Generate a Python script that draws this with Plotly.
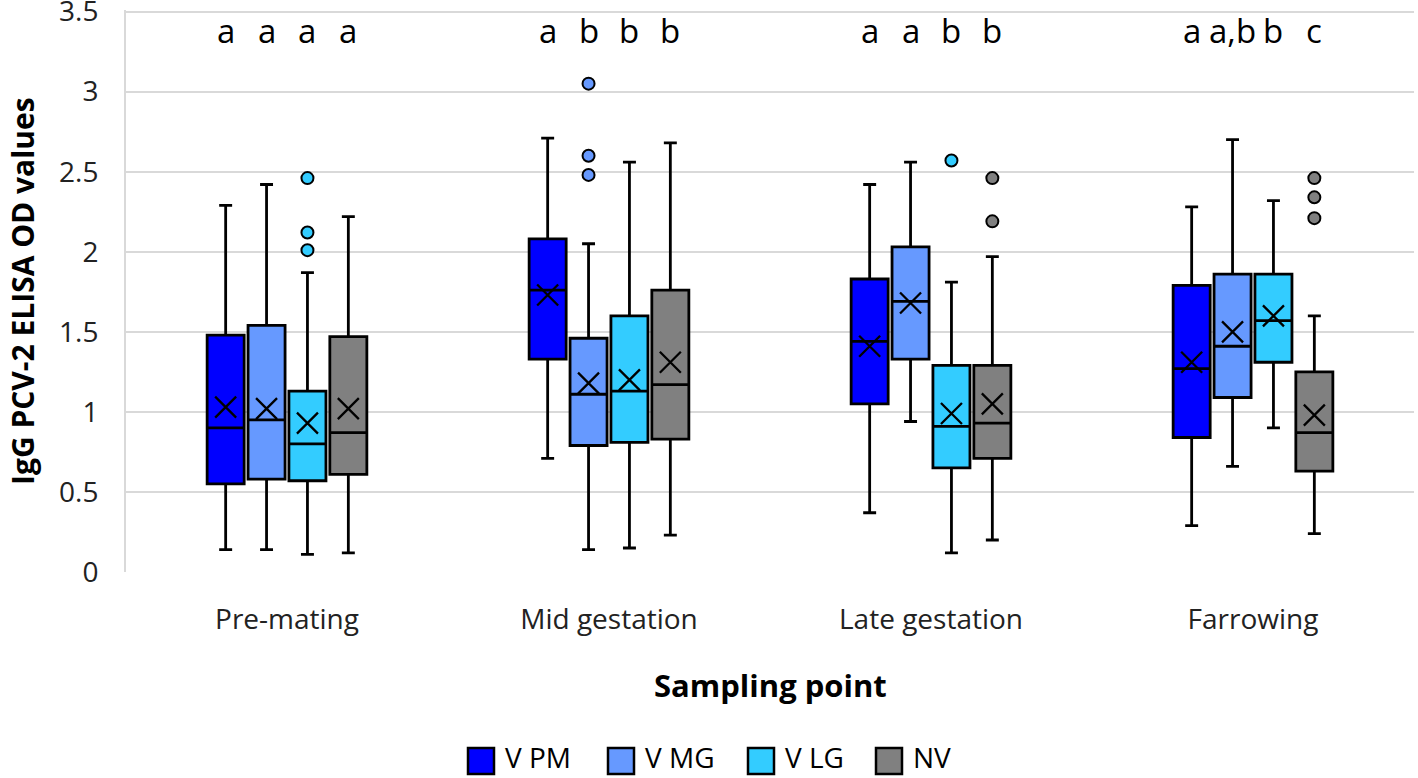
import plotly.graph_objects as go

categories = ["Pre-mating", "Mid gestation", "Late gestation", "Farrowing"]
series = ["V PM", "V MG", "V LG", "NV"]
colors = ["#0000FF", "#6699FF", "#33CCFF", "#808080"]

# per series: values for the 4 sampling points
lower = {
    "V PM": [0.14, 0.71, 0.37, 0.29],
    "V MG": [0.14, 0.14, 0.94, 0.66],
    "V LG": [0.11, 0.15, 0.12, 0.90],
    "NV":   [0.12, 0.23, 0.20, 0.24],
}
q1 = {
    "V PM": [0.55, 1.33, 1.05, 0.84],
    "V MG": [0.58, 0.79, 1.33, 1.09],
    "V LG": [0.57, 0.81, 0.65, 1.31],
    "NV":   [0.61, 0.83, 0.71, 0.63],
}
median = {
    "V PM": [0.90, 1.76, 1.44, 1.27],
    "V MG": [0.95, 1.11, 1.69, 1.41],
    "V LG": [0.80, 1.13, 0.91, 1.57],
    "NV":   [0.87, 1.17, 0.93, 0.87],
}
q3 = {
    "V PM": [1.48, 2.08, 1.83, 1.79],
    "V MG": [1.54, 1.46, 2.03, 1.86],
    "V LG": [1.13, 1.60, 1.29, 1.86],
    "NV":   [1.47, 1.76, 1.29, 1.25],
}
upper = {
    "V PM": [2.29, 2.71, 2.42, 2.28],
    "V MG": [2.42, 2.05, 2.56, 2.70],
    "V LG": [1.87, 2.56, 1.81, 2.32],
    "NV":   [2.22, 2.68, 1.97, 1.60],
}
mean = {
    "V PM": [1.03, 1.73, 1.41, 1.31],
    "V MG": [1.02, 1.18, 1.68, 1.50],
    "V LG": [0.93, 1.20, 0.99, 1.60],
    "NV":   [1.02, 1.31, 1.05, 0.98],
}
# outliers: list per category
outliers = {
    "V PM": [[], [], [], []],
    "V MG": [[], [3.05, 2.60, 2.48], [], []],
    "V LG": [[2.46, 2.12, 2.01], [], [2.57], []],
    "NV":   [[], [], [2.46, 2.19], [2.46, 2.34, 2.21]],
}
letters = [
    ["a", "a", "a", "a"],
    ["a", "b", "b", "b"],
    ["a", "a", "b", "b"],
    ["a", "a,b", "b", "c"],
]
y_ticks = [0, 0.5, 1, 1.5, 2, 2.5, 3, 3.5]
y_ticktext = ["0", "0.5", "1", "1.5", "2", "2.5", "3", "3.5"]

FONT = "Open Sans"
step = 0.127
box_w = 0.115
offsets = [-1.5 * step, -0.5 * step, 0.5 * step, 1.5 * step]

fig = go.Figure()

for si, s in enumerate(series):
    xs = [ci + 0.5 + offsets[si] for ci in range(len(categories))]
    fig.add_trace(go.Box(
        x=xs, q1=q1[s], median=median[s], q3=q3[s],
        lowerfence=lower[s], upperfence=upper[s],
        width=box_w, whiskerwidth=0.35,
        fillcolor=colors[si], line=dict(color="black", width=2.8),
        showlegend=False, hoverinfo="skip", name=s,
    ))
    fig.add_trace(go.Scatter(
        x=xs, y=mean[s], mode="markers",
        marker=dict(symbol="x-thin-open", size=21, color="black",
                    line=dict(color="black", width=2.3)),
        showlegend=False, hoverinfo="skip",
    ))
    ox, oy = [], []
    for ci in range(len(categories)):
        for v in outliers[s][ci]:
            ox.append(xs[ci])
            oy.append(v)
    if ox:
        fig.add_trace(go.Scatter(
            x=ox, y=oy, mode="markers",
            marker=dict(symbol="circle", size=12, color=colors[si],
                        line=dict(color="black", width=2)),
            showlegend=False, hoverinfo="skip",
        ))

for ci in range(len(categories)):
    for si in range(len(series)):
        fig.add_annotation(
            x=ci + 0.5 + offsets[si], y=3.385, text=letters[ci][si],
            showarrow=False, xref="x", yref="y", yanchor="middle",
            font=dict(family=FONT, size=33, color="black"),
        )

# manual legend (large square swatches), positioned in paper coordinates
PLOT_L, PLOT_W, PLOT_B, PLOT_H = 126, 1288, 572, 562
def px(xpage):
    return (xpage - PLOT_L) / PLOT_W
def py(ypage):
    return (PLOT_B - ypage) / PLOT_H

leg_x = [468, 608, 748, 876]
leg_sq_y = 761
leg_txt_y = 757
sq = 26
for si, s in enumerate(series):
    fig.add_shape(
        type="rect", xref="paper", yref="paper",
        x0=px(leg_x[si]), x1=px(leg_x[si] + sq),
        y0=py(leg_sq_y + sq / 2), y1=py(leg_sq_y - sq / 2),
        fillcolor=colors[si], line=dict(color="black", width=2.5),
    )
    fig.add_annotation(
        x=px(leg_x[si] + sq + 9), y=py(leg_txt_y), xref="paper", yref="paper",
        text=s, showarrow=False, xanchor="left", yanchor="middle",
        font=dict(family=FONT, size=28, color="black"),
    )

fig.add_annotation(
    x=0.5, y=py(685), xref="paper", yref="paper", text="<b>Sampling point</b>",
    showarrow=False, yanchor="middle", xanchor="center",
    font=dict(family=FONT, size=31, color="black"),
)
fig.add_annotation(
    x=px(22), y=0.5, xref="paper", yref="paper",
    text="<b>IgG PCV-2 ELISA OD values</b>", textangle=-90,
    showarrow=False, yanchor="middle", xanchor="center",
    font=dict(family=FONT, size=30, color="black"),
)

fig.update_layout(
    width=1418, height=778,
    margin=dict(l=126, r=4, t=10, b=206, autoexpand=False),
    paper_bgcolor="white", plot_bgcolor="white",
    font=dict(family=FONT, size=28, color="#222222"),
    showlegend=False,
)
fig.update_xaxes(
    range=[0, 4], tickvals=[0.5, 1.5, 2.5, 3.5], ticktext=categories,
    showgrid=False, zeroline=False, showline=False, tickangle=0,
    ticks="outside", ticklen=22, tickcolor="rgba(0,0,0,0)",
    tickfont=dict(family=FONT, size=28, color="#222222"),
)
fig.update_yaxes(
    range=[0, 3.51], tickvals=y_ticks, ticktext=y_ticktext,
    showgrid=True, gridcolor="#d9d9d9", gridwidth=2,
    zeroline=False, showline=True, linecolor="#d9d9d9", linewidth=2,
    ticks="outside", ticklen=20, tickcolor="rgba(0,0,0,0)",
    ticklabeloverflow="allow",
    tickfont=dict(family=FONT, size=28, color="#222222"),
)

# remove the default 8px page margin so the figure fills the window exactly
fig.write_html("out.html", config={"displayModeBar": False},
               post_script="document.body.style.margin='0px';")
